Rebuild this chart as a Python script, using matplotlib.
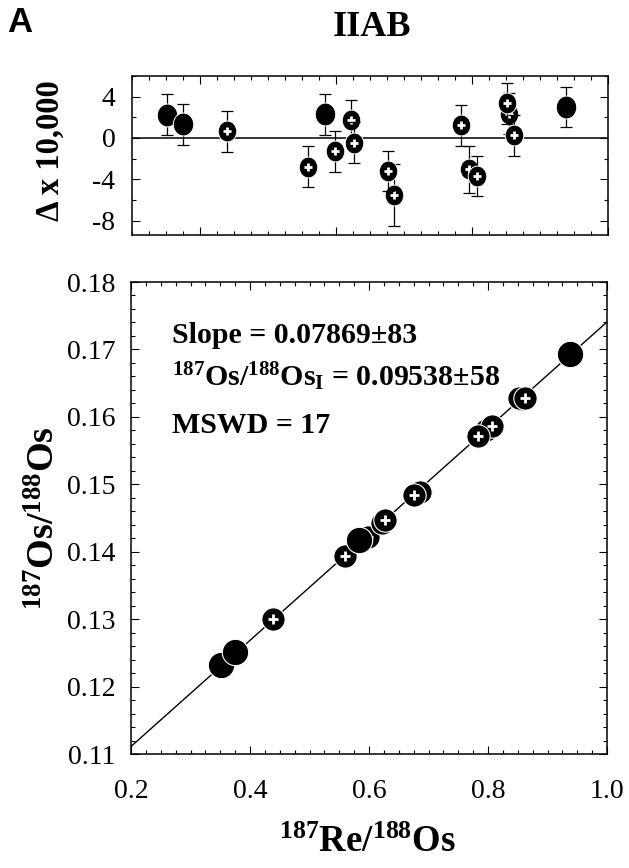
import matplotlib
matplotlib.use("Agg")
import matplotlib.pyplot as plt
from matplotlib.path import Path
from matplotlib.ticker import MultipleLocator, FormatStrFormatter

plt.rcParams['font.family'] = ['Liberation Serif', 'DejaVu Serif']
plt.rcParams['mathtext.fontset'] = 'custom'
plt.rcParams['mathtext.rm'] = 'Liberation Serif:bold'
plt.rcParams['mathtext.it'] = 'Liberation Serif:bold'
plt.rcParams['mathtext.bf'] = 'Liberation Serif:bold'
plt.rcParams['axes.unicode_minus'] = False

# IIAB iron meteorites, Re-Os isochron
re_os = [0.352, 0.375, 0.439, 0.559, 0.598, 0.584, 0.622, 0.627, 0.686,
         0.676, 0.796, 0.807, 0.784, 0.854, 0.852, 0.862, 0.938]
os_os = [0.1232, 0.1251, 0.1300, 0.1393, 0.1422, 0.1417, 0.1443, 0.1447, 0.1488,
         0.1484, 0.1580, 0.1586, 0.1572, 0.1627, 0.1628, 0.1628, 0.1693]
delta = [2.25, 1.32, 0.64, -2.79, -1.28, 2.28, 1.70, -0.48, -5.51,
         -3.17, -3.04, -3.68, 1.22, 2.35, 3.37, 0.26, 2.98]
delta_err = [1.97, 1.97, 2.0, 2.0, 1.97, 1.97, 1.93, 1.98, 2.97,
             1.92, 2.3, 1.96, 1.99, 2.0, 2.0, 2.0, 1.95]
# True = plain filled circle, False = circle with white cross
solid = [True, True, False, False, False, True, False, False, False,
         False, False, False, False, False, False, False, True]

slope = 0.07869
intercept = 0.09538
mswd = 17

fig = plt.figure(figsize=(6.29, 8.68), dpi=100)
ax_top = fig.add_axes([132/629, 1 - 235/868, 476/629, 159/868])
ax_bot = fig.add_axes([131/629, 1 - 754/868, 476/629, 472/868])

# slightly tall ellipse for the residual panel
circ = Path.unit_circle()
oval = Path(circ.vertices * [1.0, 1.12], circ.codes)

for ax in (ax_top, ax_bot):
    for sp in ax.spines.values():
        sp.set_linewidth(1.1)
    ax.tick_params(which='both', direction='in', top=True, right=True,
                   width=0.8, labelsize=20)
    ax.tick_params(which='major', length=5.5)
    ax.tick_params(which='minor', length=3.2)

# residuals
ax_top.axhline(0, color='black', lw=1.1, zorder=1)
for i in range(len(re_os)):
    ax_top.errorbar(re_os[i], delta[i], yerr=delta_err[i], fmt='none',
                    ecolor='black', elinewidth=0.9, capsize=4, capthick=0.9,
                    zorder=2 + 3*i)
    ms = 16.5 if solid[i] else 15
    ax_top.plot(re_os[i], delta[i], marker=oval, ms=ms, color='black',
                mec='white', mew=0.7, ls='none', zorder=3 + 3*i)
    if not solid[i]:
        ax_top.plot(re_os[i], delta[i], marker='+', ms=6, color='white',
                    mew=2.0, ls='none', zorder=4 + 3*i)

ax_top.set_xlim(0.3, 1.0)
ax_top.set_ylim(-9.4, 6)
ax_top.xaxis.set_major_locator(MultipleLocator(0.2))
ax_top.xaxis.set_minor_locator(MultipleLocator(0.025))
ax_top.yaxis.set_major_locator(MultipleLocator(4))
ax_top.yaxis.set_minor_locator(MultipleLocator(2))
ax_top.tick_params(axis='x', labelbottom=False)
ax_top.tick_params(axis='y', pad=12)

# isochron
x_line = [0.2, 1.0]
y_line = [intercept + slope*x for x in x_line]
ax_bot.plot(x_line, y_line, color='black', lw=1.0, zorder=1)
for i in range(len(re_os)):
    ms = 19 if solid[i] else 16.8
    ax_bot.plot(re_os[i], os_os[i], marker='o', ms=ms, color='black',
                mec='white', mew=0.8, ls='none', zorder=2 + 2*i)
    if not solid[i]:
        ax_bot.plot(re_os[i], os_os[i], marker='+', ms=6.5, color='white',
                    mew=2.0, ls='none', zorder=3 + 2*i)

ax_bot.set_xlim(0.2, 1.0)
ax_bot.set_ylim(0.11, 0.18)
ax_bot.xaxis.set_major_locator(MultipleLocator(0.2))
ax_bot.xaxis.set_minor_locator(MultipleLocator(0.025))
ax_bot.yaxis.set_major_locator(MultipleLocator(0.01))
ax_bot.yaxis.set_minor_locator(MultipleLocator(0.002))
ax_bot.xaxis.set_major_formatter(FormatStrFormatter('%.1f'))
ax_bot.yaxis.set_major_formatter(FormatStrFormatter('%.2f'))
ax_bot.tick_params(axis='x', pad=18)
ax_bot.tick_params(axis='y', pad=11)

stats = [f'Slope = {slope:.5f}\u00b183',
         r'$^{187}$Os/$^{188}$Os$_{\mathrm{I}}$ = ' + f'{intercept:.5f}\u00b158',
         f'MSWD = {mswd}']
for txt, yb in zip(stats, [343, 386, 433]):
    fig.text(172/629, 1 - yb/868, txt, fontsize=21.5, fontweight='bold',
             ha='left', va='baseline')

fig.text(20/629, 1 - 22/868, 'A', fontsize=25, fontweight='bold',
         family=['Liberation Sans', 'DejaVu Sans'], ha='center', va='center')
fig.text(372/629, 1 - 36/868, 'IIAB', fontsize=26, fontweight='bold',
         ha='center', va='baseline')
fig.text(50/629, 1 - 151/868, '\u0394 x 10,000', fontsize=23.5, fontweight='bold',
         rotation=90, ha='center', va='center')
fig.text(45/629, 1 - 518/868, r'$^{187}$Os/$^{188}$Os', fontsize=27.5,
         fontweight='bold', rotation=90, ha='center', va='center')
fig.text(367/629, 1 - 843/868, r'$^{187}$Re/$^{188}$Os', fontsize=26.5,
         fontweight='bold', ha='center', va='center')

fig.savefig('out.png', dpi=100)
